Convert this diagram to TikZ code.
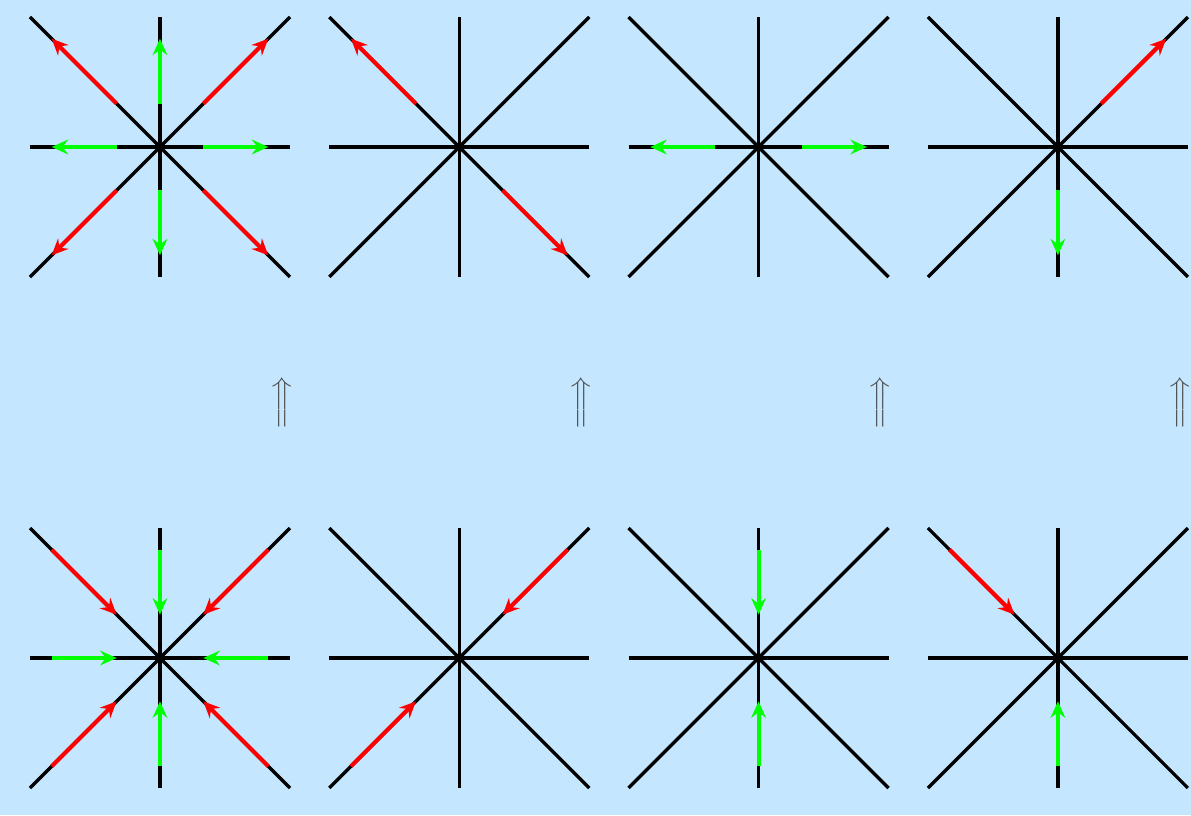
\documentclass[tikz,border=0pt]{standalone}
\usetikzlibrary{arrows.meta}

\definecolor{skyblue}{RGB}{196,231,255}
\definecolor{vecred}{RGB}{255,0,0}
\definecolor{vecgreen}{RGB}{0,255,0}

\begin{document}
\begin{tikzpicture}[
  axis/.style={draw=black, line width=2.2pt},
  redvec/.style={draw=vecred, line width=2.7pt, -{Stealth[length=3.8mm, width=3.4mm, inset=1.3mm]}},
  greenvec/.style={draw=vecgreen, line width=2.7pt, -{Stealth[length=3.8mm, width=3.4mm, inset=1.3mm]}},
  implies/.style={text=black!70, scale=1.8, inner sep=0pt}
]
\fill[skyblue] (0,0) rectangle (27.485,-18.808);
\useasboundingbox (0,0) rectangle (27.485,-18.808);

% star centres
\coordinate (t1) at (3.692,-3.392);
\coordinate (t2) at (10.599,-3.392);
\coordinate (t3) at (17.506,-3.392);
\coordinate (t4) at (24.413,-3.392);
\coordinate (b1) at (3.692,-15.185);
\coordinate (b2) at (10.599,-15.185);
\coordinate (b3) at (17.506,-15.185);
\coordinate (b4) at (24.413,-15.185);

% the four lines of each star
\foreach \c in {t1,t2,t3,t4,b1,b2,b3,b4} {
  \draw[axis] (\c) ++(-3,0) -- ++(6,0);
  \draw[axis] (\c) ++(0,-3) -- ++(0,6);
  \draw[axis] (\c) ++(-3,-3) -- ++(6,6);
  \draw[axis] (\c) ++(-3,3) -- ++(6,-6);
}

% top row: outward
\draw[redvec] (t1) ++(1,1) -- ++(1.5,1.5);
\draw[redvec] (t1) ++(-1,1) -- ++(-1.5,1.5);
\draw[redvec] (t1) ++(-1,-1) -- ++(-1.5,-1.5);
\draw[redvec] (t1) ++(1,-1) -- ++(1.5,-1.5);
\draw[greenvec] (t1) ++(1,0) -- ++(1.5,0);
\draw[greenvec] (t1) ++(-1,0) -- ++(-1.5,0);
\draw[greenvec] (t1) ++(0,1) -- ++(0,1.5);
\draw[greenvec] (t1) ++(0,-1) -- ++(0,-1.5);

\draw[redvec] (t2) ++(-1,1) -- ++(-1.5,1.5);
\draw[redvec] (t2) ++(1,-1) -- ++(1.5,-1.5);

\draw[greenvec] (t3) ++(1,0) -- ++(1.5,0);
\draw[greenvec] (t3) ++(-1,0) -- ++(-1.5,0);

\draw[redvec] (t4) ++(1,1) -- ++(1.5,1.5);
\draw[greenvec] (t4) ++(0,-1) -- ++(0,-1.5);

% bottom row: inward
\draw[redvec] (b1) ++(2.5,2.5) -- ++(-1.5,-1.5);
\draw[redvec] (b1) ++(-2.5,2.5) -- ++(1.5,-1.5);
\draw[redvec] (b1) ++(-2.5,-2.5) -- ++(1.5,1.5);
\draw[redvec] (b1) ++(2.5,-2.5) -- ++(-1.5,1.5);
\draw[greenvec] (b1) ++(2.5,0) -- ++(-1.5,0);
\draw[greenvec] (b1) ++(-2.5,0) -- ++(1.5,0);
\draw[greenvec] (b1) ++(0,2.5) -- ++(0,-1.5);
\draw[greenvec] (b1) ++(0,-2.5) -- ++(0,1.5);

\draw[redvec] (b2) ++(2.5,2.5) -- ++(-1.5,-1.5);
\draw[redvec] (b2) ++(-2.5,-2.5) -- ++(1.5,1.5);

\draw[greenvec] (b3) ++(0,2.5) -- ++(0,-1.5);
\draw[greenvec] (b3) ++(0,-2.5) -- ++(0,1.5);

\draw[redvec] (b4) ++(-2.5,2.5) -- ++(1.5,-1.5);
\draw[greenvec] (b4) ++(0,-2.5) -- ++(0,1.5);

% implication arrows
\node (up1) [implies] at (6.508,-9.277) {$\Big\Uparrow$};
\node (up2) [implies] at (13.415,-9.277) {$\Big\Uparrow$};
\node (up3) [implies] at (20.322,-9.277) {$\Big\Uparrow$};
\node (up4) [implies] at (27.229,-9.277) {$\Big\Uparrow$};

\end{tikzpicture}
\end{document}
